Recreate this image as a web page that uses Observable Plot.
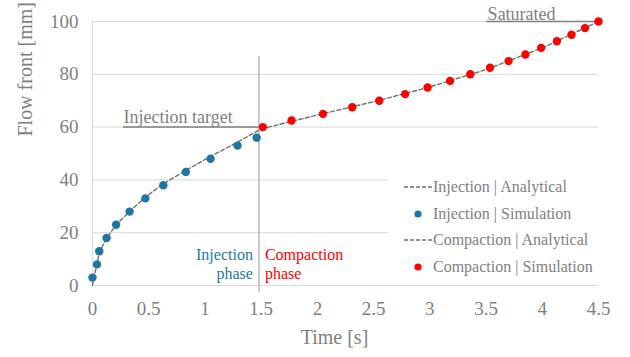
<!DOCTYPE html>
<html>
<head>
<meta charset="utf-8">
<script src="https://cdn.jsdelivr.net/npm/d3@7"></script>
<script src="https://cdn.jsdelivr.net/npm/@observablehq/plot@0.6"></script>
<style>
  html, body { margin: 0; padding: 0; background: #fff; }
  #wrap { position: relative; width: 630px; height: 357px; font-family: "Liberation Serif", Tinos, "Times New Roman", Times, "DejaVu Serif", serif; }
  #wrap svg, #wrap svg text { font-family: "Liberation Serif", Tinos, "Times New Roman", Times, "DejaVu Serif", serif; }
  #legend { position: absolute; left: 388px; top: 172px; width: 213px; height: 108px; background: #fff; color: #7f7f7f; font-size: 16px; }
  .row { position: absolute; left: 0; height: 20px; display: flex; align-items: center; }
  .row svg { display: block; margin-left: 16px; }
  .row span { margin-left: 1px; white-space: nowrap; }
</style>
</head>
<body>
<div id="wrap"></div>
<script>
// Simulation points
const injT = [0, 0.04, 0.06, 0.125, 0.21, 0.33, 0.47, 0.63, 0.83, 1.05, 1.29, 1.46];
const injF = [3, 8, 13, 18, 23, 28, 33, 38, 43, 48, 53, 56];
const compT = [1.515, 1.77, 2.05, 2.31, 2.55, 2.78, 2.98, 3.18, 3.36, 3.535, 3.70, 3.85, 3.99, 4.13, 4.26, 4.38, 4.50];
const compF = [60, 62.5, 65, 67.5, 70, 72.5, 75, 77.5, 80, 82.5, 85, 87.5, 90, 92.5, 95, 97.5, 100];
// Analytical curves
const anaInjT = [0, 0.01, 0.04, 0.06, 0.125, 0.21, 0.33, 0.47, 0.63, 0.83, 1.05, 1.29, 1.5];
const anaInjF = [0, 3, 8, 12.5, 18, 23, 28, 33.5, 38.5, 43.6, 48.9, 54.3, 59.3];
const anaCompT = [1.5, 2, 2.5, 3, 3.5, 4, 4.5];
const anaCompF = [59.3, 64.6, 69.6, 75.2, 81.8, 90, 100];
// Axis ticks
const xTicks = [0, 0.5, 1, 1.5, 2, 2.5, 3, 3.5, 4, 4.5];
const yTicks = [0, 20, 40, 60, 80, 100];
// Annotations
const phaseT = 1.48;
const targetF = 60, targetT0 = 0.276;
const satF = 100, satT0 = 3.505, satT1 = 4.5;
const sepY = [-2.7, 86.7];

const BLUE = "#1f77a0", RED = "#ff0000", GRAY = "#7f7f7f", GRID = "#d9d9d9";
const FONT = "'Liberation Serif', Tinos, 'Times New Roman', Times, 'DejaVu Serif', serif";

const inj = injT.map((t, i) => ({t, f: injF[i]}));
const comp = compT.map((t, i) => ({t, f: compF[i]}));
const anaInj = anaInjT.map((t, i) => ({t, f: anaInjF[i]}));
const anaComp = anaCompT.map((t, i) => ({t, f: anaCompF[i]}));

const chart = Plot.plot({
  width: 630,
  height: 357,
  marginLeft: 92,
  marginRight: 32,
  marginTop: 21,
  marginBottom: 72,
  style: {fontFamily: FONT, fontSize: "19px", color: GRAY, background: "#fff", overflow: "visible"},
  x: {domain: [0, 4.5]},
  y: {domain: [0, 100]},
  marks: [
    Plot.ruleY(yTicks.filter(d => d > 0), {stroke: GRID, strokeWidth: 1}),
    Plot.ruleY([0], {stroke: GRID, strokeWidth: 1.2}),
    Plot.ruleX([0], {stroke: GRID, strokeWidth: 1}),
    Plot.axisX({ticks: xTicks, tickSize: 0, tickPadding: 16, tickFormat: d => String(d), label: null, fill: GRAY}),
    Plot.axisY({ticks: yTicks, tickSize: 0, tickPadding: 14, label: null, fill: GRAY}),
    Plot.text(["Time [s]"], {frameAnchor: "bottom", dx: -11, dy: 58, fontSize: 20, fill: GRAY}),
    Plot.text(["Flow front [mm]"], {frameAnchor: "left", dx: -67, dy: -17, rotate: -90, fontSize: 20, fill: GRAY}),
    Plot.ruleX([phaseT], {y1: sepY[0], y2: sepY[1], stroke: "#a6a6a6", strokeWidth: 1.2}),
    Plot.ruleY([targetF], {x1: targetT0, x2: phaseT, stroke: GRAY, strokeWidth: 1.5}),
    Plot.ruleY([satF], {x1: satT0, x2: satT1, stroke: GRAY, strokeWidth: 1.5}),
    Plot.text(["Injection target"], {x: targetT0, y: targetF, textAnchor: "start", lineAnchor: "bottom", dy: -4, fontSize: 18, fill: GRAY}),
    Plot.text(["Saturated"], {x: satT0, y: satF, textAnchor: "start", lineAnchor: "bottom", dy: -2, dx: 1, fontSize: 18, fill: GRAY}),
    Plot.text(["Injection\nphase"], {x: phaseT, y: 8.5, textAnchor: "end", dx: -6, fontSize: 16, lineHeight: 1.2, fill: BLUE}),
    Plot.text(["Compaction\nphase"], {x: phaseT, y: 8.5, textAnchor: "start", dx: 6, fontSize: 16, lineHeight: 1.2, fill: RED}),
    Plot.line(anaInj, {x: "t", y: "f", stroke: "#6f6f6f", strokeWidth: 1.4, strokeDasharray: "4,2.5"}),
    Plot.line(anaComp, {x: "t", y: "f", stroke: "#6f6f6f", strokeWidth: 1.4, strokeDasharray: "4,2.5"}),
    Plot.dot(inj, {x: "t", y: "f", r: 4.2, fill: BLUE}),
    Plot.dot(comp, {x: "t", y: "f", r: 4.2, fill: RED})
  ]
});

const wrap = document.getElementById("wrap");
wrap.appendChild(chart);

// Legend (overlay inside the plot area, like the original)
const legendItems = [
  {label: "Injection | Analytical", type: "line"},
  {label: "Injection | Simulation", type: "dot", color: BLUE},
  {label: "Compaction | Analytical", type: "line"},
  {label: "Compaction | Simulation", type: "dot", color: RED}
];
const legend = document.createElement("div");
legend.id = "legend";
legendItems.forEach((it, i) => {
  const row = document.createElement("div");
  row.className = "row";
  row.style.top = (5 + i * 26.7) + "px";
  const sample = it.type === "line"
    ? `<svg width="28" height="10"><line x1="0" x2="28" y1="5" y2="5" stroke="#6f6f6f" stroke-width="1.3" stroke-dasharray="4,2"/></svg>`
    : `<svg width="28" height="10"><circle cx="14" cy="5" r="3.6" fill="${it.color}"/></svg>`;
  row.innerHTML = sample + `<span>${it.label}</span>`;
  legend.appendChild(row);
});
wrap.appendChild(legend);
</script>
</body>
</html>
